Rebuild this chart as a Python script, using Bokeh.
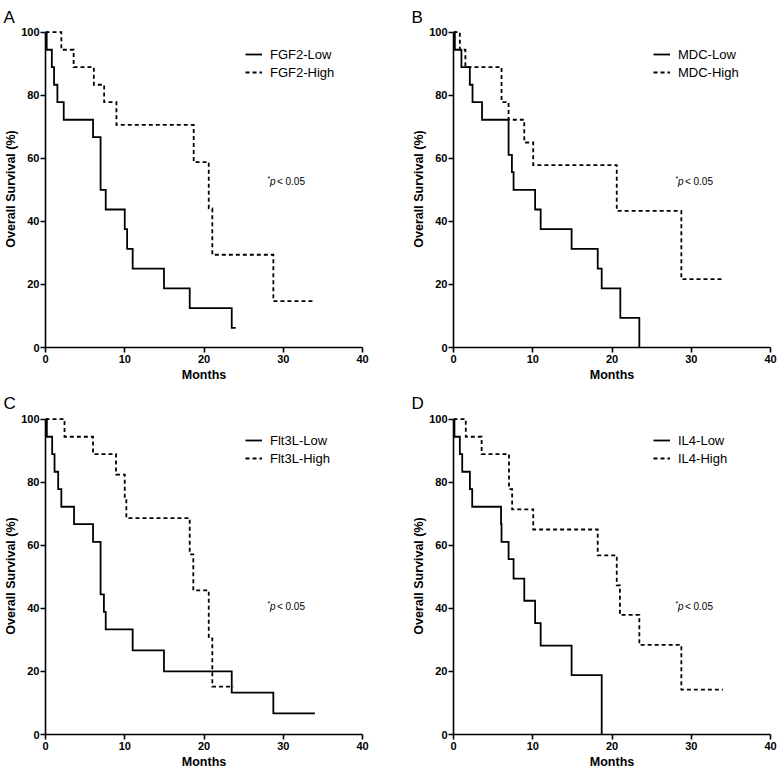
from bokeh.plotting import figure
from bokeh.models import Range1d, Label, Legend, LegendItem, FixedTicker
from bokeh.layouts import gridplot
from bokeh.embed import file_html
from bokeh.resources import INLINE

# ---------------- data ----------------
x_ticks = [0, 10, 20, 30, 40]
y_ticks = [0, 20, 40, 60, 80, 100]

panel_letters = ["A", "B", "C", "D"]
low_names = ["FGF2-Low", "MDC-Low", "Flt3L-Low", "IL4-Low"]
high_names = ["FGF2-High", "MDC-High", "Flt3L-High", "IL4-High"]
p_value_y = [52.7, 52.7, 40.6, 40.6]

fgf2_low_t = [0, 0.15, 0.8, 1.08, 1.5, 2.3, 6.0, 6.95, 7.6, 10.0, 10.3, 11.0, 14.95, 18.2, 23.5, 24.0]
fgf2_low_s = [100, 94.4, 88.9, 83.3, 77.8, 72.2, 66.7, 50.0, 43.75, 37.5, 31.25, 25.0, 18.75, 12.5, 6.25, 6.25]
fgf2_high_t = [0, 2.0, 3.55, 6.1, 7.4, 8.95, 18.7, 20.6, 21.05, 28.75, 34.0]
fgf2_high_s = [100, 94.4, 88.9, 83.3, 77.8, 70.6, 58.8, 44.1, 29.4, 14.7, 14.7]

mdc_low_t = [0, 0.17, 1.0, 2.06, 2.4, 3.6, 6.95, 7.37, 7.58, 10.3, 11.0, 14.9, 18.2, 18.7, 21.05, 23.45]
mdc_low_s = [100, 94.4, 88.9, 83.3, 77.8, 72.2, 61.1, 55.6, 50.0, 43.75, 37.5, 31.25, 25.0, 18.75, 9.4, 0]
mdc_high_t = [0, 0.8, 1.5, 6.06, 6.95, 8.93, 10.06, 20.6, 28.75, 34.0]
mdc_high_s = [100, 94.4, 88.9, 77.8, 72.2, 65.0, 57.8, 43.3, 21.7, 21.7]

flt3l_low_t = [0, 0.17, 0.84, 1.14, 1.6, 2.0, 3.6, 6.0, 6.95, 7.37, 7.6, 11.0, 14.95, 23.5, 28.75, 34.0]
flt3l_low_s = [100, 94.4, 88.9, 83.3, 77.8, 72.2, 66.7, 61.1, 44.4, 38.9, 33.3, 26.7, 20.0, 13.3, 6.7, 6.7]
flt3l_high_t = [0, 2.4, 6.0, 8.9, 10.0, 10.2, 18.2, 18.65, 20.6, 21.05, 23.7]
flt3l_high_s = [100, 94.4, 88.9, 82.4, 75.0, 68.6, 57.1, 45.7, 30.5, 15.2, 15.2]

il4_low_t = [0, 0.12, 0.8, 1.1, 2.07, 2.36, 6.0, 6.06, 6.95, 7.58, 8.93, 10.3, 11.0, 14.9, 18.7]
il4_low_s = [100, 94.4, 88.9, 83.3, 77.8, 72.2, 66.7, 61.1, 55.6, 49.4, 42.4, 35.3, 28.2, 18.8, 0]
il4_high_t = [0, 1.55, 3.55, 7.0, 7.4, 10.06, 18.2, 20.6, 21.0, 23.45, 28.75, 34.0]
il4_high_s = [100, 94.4, 88.9, 77.8, 71.4, 65.0, 56.8, 47.3, 37.9, 28.4, 14.2, 14.2]

low_t = [fgf2_low_t, mdc_low_t, flt3l_low_t, il4_low_t]
low_s = [fgf2_low_s, mdc_low_s, flt3l_low_s, il4_low_s]
high_t = [fgf2_high_t, mdc_high_t, flt3l_high_t, il4_high_t]
high_s = [fgf2_high_s, mdc_high_s, flt3l_high_s, il4_high_s]

FONT = "Liberation Sans"
FRAME_W = 317
FRAME_H = 317


def make_panel(i):
    left_col = i % 2 == 0
    top_row = i < 2
    p = figure(
        frame_width=FRAME_W, frame_height=FRAME_H,
        min_border_left=45 if left_col else 64,
        min_border_right=27 if left_col else 8,
        min_border_top=30 if top_row else 32,
        min_border_bottom=38 if top_row else 37,
        x_range=Range1d(0, 40), y_range=Range1d(0, 100.5),
        output_backend="svg", toolbar_location=None,
        background_fill_color="white", border_fill_color="white",
    )
    p.outline_line_color = None
    p.grid.visible = False

    # panel letter as title
    p.title.text = panel_letters[i]
    p.title.align = "left"
    p.title.offset = -42
    p.title.text_font = FONT
    p.title.text_font_size = "17px"
    p.title.text_font_style = "normal"
    p.title.text_color = "black"
    p.title.standoff = 7 if top_row else 9

    r_low = p.step(x=low_t[i], y=low_s[i], mode="after", line_color="black",
                   line_width=1.8, line_join="miter")
    r_high = p.step(x=high_t[i], y=high_s[i], mode="after", line_color="black",
                    line_width=1.8, line_dash="4 3", line_join="miter")

    for ax in (p.xaxis[0], p.yaxis[0]):
        ax.axis_line_width = 1.6
        ax.axis_line_color = "black"
        ax.major_tick_line_width = 1.6
        ax.major_tick_line_color = "black"
        ax.major_tick_out = 5
        ax.major_tick_in = 0
        ax.minor_tick_out = 0
        ax.minor_tick_in = 0
        ax.major_label_text_font = FONT
        ax.major_label_text_font_size = "11px"
        ax.major_label_text_font_style = "bold"
        ax.major_label_text_color = "black"
        ax.axis_label_text_font = FONT
        ax.axis_label_text_font_size = "12.5px"
        ax.axis_label_text_font_style = "bold"
        ax.axis_label_text_color = "black"

    p.xaxis.ticker = FixedTicker(ticks=x_ticks)
    p.yaxis.ticker = FixedTicker(ticks=y_ticks)
    p.yaxis.bounds = (0, 100)
    p.xaxis.axis_label = "Months"
    p.yaxis.axis_label = "Overall Survival (%)"
    p.xaxis.major_label_standoff = 2
    p.yaxis.major_label_standoff = 1
    p.xaxis.axis_label_standoff = 2
    p.yaxis.axis_label_standoff = 0

    legend = Legend(
        items=[LegendItem(label=low_names[i], renderers=[r_low]),
               LegendItem(label=high_names[i], renderers=[r_high])],
        location=(200, FRAME_H - (51 if top_row else 50)),
        border_line_color=None, background_fill_alpha=0,
        padding=0, margin=0, spacing=0,
        label_height=18, glyph_height=18, glyph_width=17, label_standoff=8,
        label_text_font=FONT, label_text_font_size="13px", label_text_color="black",
    )
    p.add_layout(legend)

    # p-value annotation
    py = p_value_y[i]
    p.add_layout(Label(x=28.0, y=py, x_offset=0, y_offset=3, text="*", text_font=FONT,
                       text_font_size="7px", text_baseline="middle", text_color="black"))
    p.add_layout(Label(x=28.0, y=py, x_offset=2.5, y_offset=0, text="p", text_font=FONT,
                       text_font_size="10px", text_font_style="italic",
                       text_baseline="middle", text_color="black"))
    p.add_layout(Label(x=28.0, y=py, x_offset=9.5, y_offset=0, text="< 0.05", text_font=FONT,
                       text_font_size="10px", text_baseline="middle", text_color="black"))
    return p


panels = [make_panel(i) for i in range(4)]
grid = gridplot([[panels[0], panels[1]], [panels[2], panels[3]]], toolbar_location=None)

open("out.html", "w").write(file_html(grid, INLINE))
